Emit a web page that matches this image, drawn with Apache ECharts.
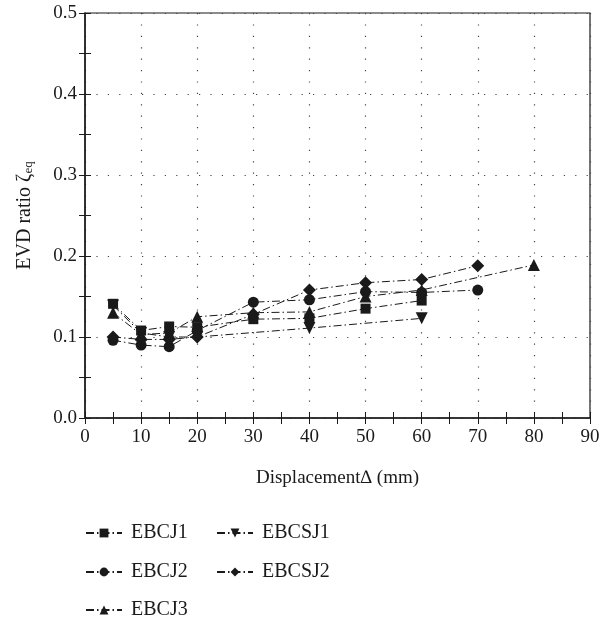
<!DOCTYPE html>
<html>
<head>
<meta charset="utf-8">
<script src="https://cdn.jsdelivr.net/npm/echarts@6/dist/echarts.min.js"></script>
<style>
html,body{margin:0;padding:0;background:#fff;}
#main{width:600px;height:620px;}
</style>
</head>
<body>
<div id="main"></div>
<script>
// data
var xTicks = [0, 10, 20, 30, 40, 50, 60, 70, 80, 90];
var ebcj1 = [[5,0.141],[10,0.108],[15,0.113],[20,0.112],[30,0.122],[40,0.123],[50,0.135],[60,0.145]];
var ebcj2 = [[5,0.096],[10,0.090],[15,0.088],[20,0.108],[30,0.143],[40,0.146],[50,0.156],[60,0.155],[70,0.158]];
var ebcj3 = [[5,0.130],[10,0.103],[15,0.105],[20,0.125],[30,0.130],[40,0.131],[50,0.150],[60,0.158],[80,0.189]];
var ebcsj1 = [[5,0.139],[10,0.105],[15,0.100],[20,0.100],[40,0.111],[60,0.123]];
var ebcsj2 = [[5,0.100],[10,0.097],[15,0.097],[20,0.100],[30,0.128],[40,0.158],[50,0.167],[60,0.171],[70,0.188]];

var font = 'Liberation Serif';
var ink = '#1a1a1a';
var dashDot = [8, 3, 1.5, 3];
var dots = [1.2, 10.2];

function mkSeries(name, data, symbol, size, rotate){
	return {
		name: name,
		type: 'line',
		data: data,
		symbol: symbol,
		symbolSize: size,
		symbolRotate: rotate || 0,
		showAllSymbol: true,
		itemStyle: {color: ink},
		lineStyle: {color: ink, width: 1, type: dashDot},
		emphasis: {disabled: true},
		animation: false
	};
}

// one legend per entry so the two columns line up like the original
function mkLegend(name, left, top){
	return {
		left: left,
		top: top,
		data: [name],
		itemWidth: 36,
		itemHeight: 11,
		textStyle: {fontFamily: font, fontSize: 20, color: ink, padding: [0, 0, 0, 4]},
		selectedMode: false
	};
}

// mirror axes on top/right: ticks only
function mirror(extra){
	return Object.assign({
		type: 'value',
		axisLine: {show: false},
		axisTick: {inside: true, length: 6, lineStyle: {color: ink}},
		minorTick: {show: true, splitNumber: 2, length: 6, lineStyle: {color: ink}},
		axisLabel: {show: false},
		splitLine: {show: false}
	}, extra);
}

var option = {
	backgroundColor: '#fff',
	grid: {left: 85, right: 10, top: 13, bottom: 202, show: true, borderColor: ink, borderWidth: 1.2,
		outerBoundsMode: 'none', containLabel: false},
	legend: [
		mkLegend('EBCJ1', 80, 518),
		mkLegend('EBCSJ1', 211, 518),
		mkLegend('EBCJ2', 80, 557),
		mkLegend('EBCSJ2', 211, 557),
		mkLegend('EBCJ3', 80, 595)
	],
	xAxis: [{
		type: 'value',
		min: 0, max: 90, interval: 10,
		name: 'Displacement\u2206 (mm)',
		nameLocation: 'middle',
		nameGap: 51,
		nameTextStyle: {fontFamily: font, fontSize: 19, color: ink},
		axisLine: {lineStyle: {color: ink, width: 1.5}},
		axisTick: {inside: true, length: 6, lineStyle: {color: ink}},
		minorTick: {show: true, splitNumber: 2, length: 6, lineStyle: {color: ink}},
		axisLabel: {fontFamily: font, fontSize: 19, color: ink, margin: 10},
		splitLine: {show: true, lineStyle: {color: '#444', width: 1.2, type: dots}}
	}, mirror({position: 'top', min: 0, max: 90, interval: 10})],
	yAxis: [{
		type: 'value',
		min: 0, max: 0.5, interval: 0.1,
		name: 'EVD ratio \u03b6{sub|eq}',
		nameLocation: 'middle',
		nameGap: 50,
		nameTextStyle: {fontFamily: font, fontSize: 20, color: ink,
			rich: {sub: {fontFamily: font, fontSize: 13, color: ink, verticalAlign: 'bottom', lineHeight: 13, padding: [9, 0, 0, 0]}}},
		axisLine: {lineStyle: {color: ink, width: 1.5}},
		axisTick: {inside: true, length: 6, lineStyle: {color: ink}},
		minorTick: {show: true, splitNumber: 2, length: 6, lineStyle: {color: ink}},
		axisLabel: {fontFamily: font, fontSize: 19, color: ink, margin: 8,
			formatter: function(v){ return v.toFixed(1); }},
		splitLine: {show: true, lineStyle: {color: '#444', width: 1.2, type: dots}}
	}, mirror({position: 'right', min: 0, max: 0.5, interval: 0.1})],
	series: [
		mkSeries('EBCJ1', ebcj1, 'rect', 10),
		mkSeries('EBCJ2', ebcj2, 'circle', 11),
		mkSeries('EBCJ3', ebcj3, 'triangle', 12),
		mkSeries('EBCSJ1', ebcsj1, 'triangle', 12, 180),
		mkSeries('EBCSJ2', ebcsj2, 'diamond', 13)
	]
};

var myChart = echarts.init(document.getElementById('main'));
myChart.setOption(option);
</script>
</body>
</html>
